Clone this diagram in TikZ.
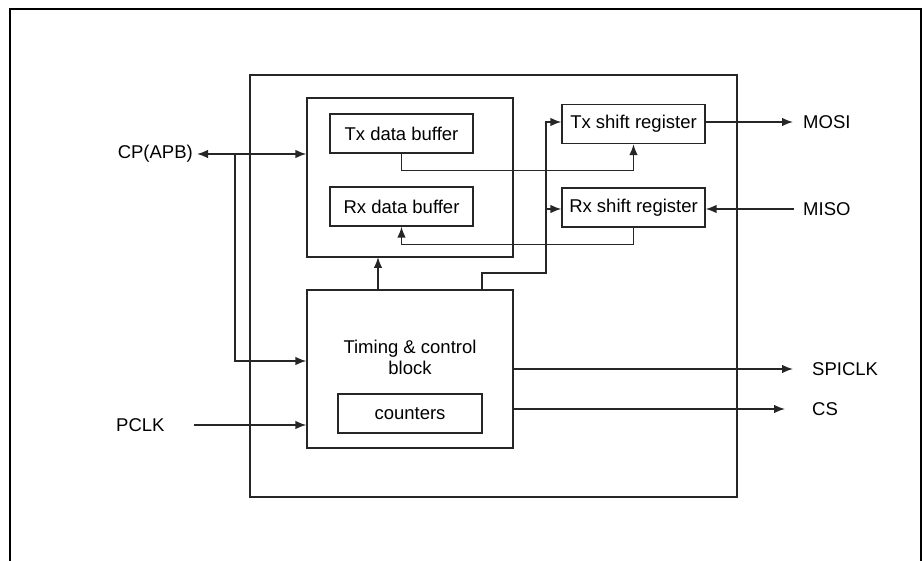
\documentclass[tikz,border=0pt]{standalone}
\usepackage{fontspec}
\setmainfont{Liberation Sans}
\usetikzlibrary{arrows.meta,positioning}
\tikzset{
  blk/.style={draw=black!85, line width=1.3pt, inner sep=0pt},
  conn/.style={draw=black!85, line width=1.4pt},
  tip/.tip={Latex[length=11pt,width=8.5pt]},
  arr/.style={conn, -tip},
  lbl/.style={inner sep=0pt, font=\fontsize{18.5}{21}\selectfont},
}
\begin{document}
\begin{tikzpicture}[x=1pt,y=-1pt]
\useasboundingbox (0,0) rectangle (922,561);
% outer frame (open at bottom)
\draw[line width=2pt] (10,561) -- (10,9) -- (920.5,9) -- (920.5,561);
% big box
\node[blk, minimum width=487pt, minimum height=422pt] (big) at (493.5,286) {};
% buffer group
\node[blk, minimum width=206pt, minimum height=159pt] (buf) at (410,177.5) {};
\node[blk, lbl, minimum width=143pt, minimum height=39pt, inner sep=0pt] (txb) at (401.5,133.5) {Tx data buffer};
\node[blk, lbl, minimum width=143pt, minimum height=39pt, inner sep=0pt] (rxb) at (401.5,206.5) {Rx data buffer};
\node[blk, lbl, minimum width=143pt, minimum height=39pt, inner sep=0pt] (txs) at (633.5,124) {Tx shift register};
\node[blk, lbl, minimum width=143pt, minimum height=39pt, inner sep=0pt] (rxs) at (633.5,207.5) {Rx shift register};
% timing block
\node[blk, minimum width=206pt, minimum height=158pt] (tc) at (410,369) {};
\node[lbl, align=center] (tctext) at (410,357) {Timing \& control\\block};
\node[blk, lbl, minimum width=144pt, minimum height=39pt, inner sep=0pt] (cnt) at (410,413.5) {counters};
% external labels
\node[lbl, anchor=east] (cp) at (193,154) {CP(APB)};
\node[lbl, anchor=west] (pclk) at (116,425) {PCLK};
\node[lbl, anchor=west] (mosi) at (803,122) {MOSI};
\node[lbl, anchor=west] (miso) at (803,209) {MISO};
\node[lbl, anchor=west] (spiclk) at (812,369) {SPICLK};
\node[lbl, anchor=west] (cs) at (812,409) {CS};
% coordinates
\coordinate (cpl) at (197,154);
\coordinate (cpv) at (235,154);
\coordinate (pclks) at (194,425);
\coordinate (mosie) at (793,122);
\coordinate (misos) at (794,209);
\coordinate (spie) at (793,369);
\coordinate (cse) at (785,409);
\coordinate (ctl) at (482,290);
\coordinate (ctlv) at (546,273);
% connectors
\draw[conn, tip-tip] (cpl) -- (cpl -| buf.west);
\draw[arr] (cpv) -- (235,361) -- (235,361 -| tc.west);
\draw[arr] (pclks) -- (pclks -| tc.west);
\draw[arr] (txs.east |- mosie) -- (mosie);
\draw[arr] (misos) -- (misos -| rxs.east);
\draw[arr] (tc.east |- spie) -- (spie);
\draw[arr] (tc.east |- cse) -- (cse);
\draw[arr] (378,290) -- (378,257);
\draw[arr] (txb.south) -- ++(0,17) -| (txs.south);
\draw[arr] (rxs.south) -- ++(0,17) -| (rxb.south);
\draw[arr] (ctl) -- (482,273) -- (ctlv) -- (546,122) -- (546,122 -| txs.west);
\draw[arr] (546,209) -- (546,209 -| rxs.west);
\end{tikzpicture}
\end{document}
